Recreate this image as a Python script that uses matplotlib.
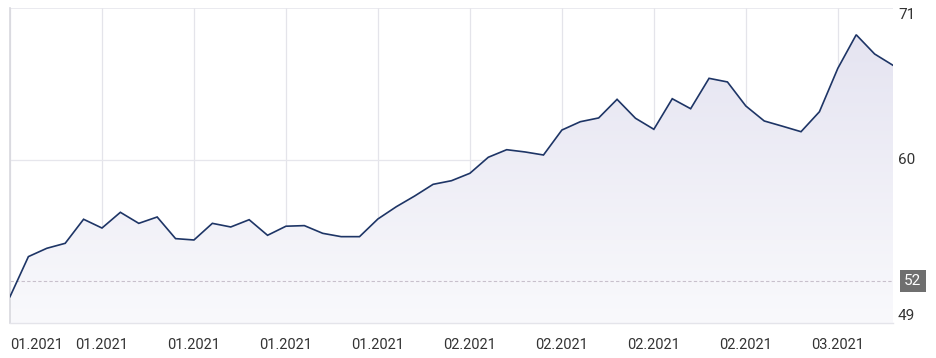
import matplotlib
matplotlib.use("Agg")
import matplotlib.pyplot as plt
import numpy as np
from matplotlib.colors import LinearSegmentedColormap

plt.rcParams['font.family'] = ['Roboto', 'DejaVu Sans']

values = [50.96, 53.61, 54.16, 54.49, 56.08, 55.50, 56.54, 55.81, 56.23, 54.80,
          54.71, 55.81, 55.57, 56.05, 55.02, 55.62, 55.66, 55.15, 54.93, 54.93,
          56.10, 56.91, 57.62, 58.39, 58.63, 59.12, 60.18, 60.68, 60.53, 60.33,
          61.98, 62.53, 62.78, 64.01, 62.76, 62.03, 64.05, 63.39, 65.40, 65.16,
          63.57, 62.58, 62.23, 61.87, 63.19, 66.06, 68.28, 67.01, 66.26]
tick_idx = [0, 5, 10, 15, 20, 25, 30, 35, 40, 45]
tick_labels = ["01.2021", "01.2021", "01.2021", "01.2021", "01.2021",
               "02.2021", "02.2021", "02.2021", "02.2021", "03.2021"]
y_labels = ["71", "60", "49"]
ref_value = 52
ref_label = "52"

x = np.arange(len(values))
ymin, ymax = 49.22, 70.05

fig = plt.figure(figsize=(9.37, 3.58), dpi=100)
ax = fig.add_axes([10/937, 1-323/358, 883/937, 315/358])
ax.set_xlim(0, len(values)-1)
ax.set_ylim(ymin, ymax)

# gradient fill
cmap = LinearSegmentedColormap.from_list("g", ["#f9f9fc", "#e5e4f1"])
grad = np.linspace(0, 1, 256).reshape(-1, 1)
im = ax.imshow(grad, extent=[0, len(values)-1, ymin, max(values)], origin='lower',
               aspect='auto', cmap=cmap, zorder=1)
poly = ax.fill_between(x, values, ymin, color='none', lw=0)
im.set_clip_path(poly.get_paths()[0], transform=ax.transData)

ax.plot(x, values, color='#1e3566', lw=1.2, zorder=3, solid_joinstyle='miter')

# grid
for t in tick_idx:
    ax.axvline(t, color='#e4e4ea', lw=0.9, zorder=0.5)
ax.axhline(60, color='#e6e6ec', lw=0.9, zorder=0.5)
ax.axhline(ymax, color='#e6e6ec', lw=1.2, zorder=0.5)
ax.axhline(ref_value, color='#c8c0cc', lw=0.8, ls=(0, (3, 2)), zorder=2)

for s in ['top', 'right']:
    ax.spines[s].set_visible(False)
ax.spines['left'].set_color('#d8d8de')
ax.spines['bottom'].set_color('#e4e4ea')
ax.spines['left'].set_linewidth(1.2)
ax.spines['bottom'].set_linewidth(1.0)

ax.set_xticks(tick_idx)
ax.set_xticklabels(tick_labels, fontsize=10.5, color='#333333')
ax.tick_params(axis='x', length=0, pad=11)
lbls = ax.get_xticklabels()
lbls[0].set_horizontalalignment('left')
ax.set_yticks([])

# right labels
lx = 1.0 + 5/883
ax.text(lx, 1 - 7/315, y_labels[0], transform=ax.transAxes, ha='left', va='center',
        fontsize=11, color='#333333')
ax.text(lx, 60, y_labels[1], transform=ax.get_yaxis_transform(), ha='left', va='center',
        fontsize=11, color='#333333')
ax.text(lx, 7/315, y_labels[2], transform=ax.transAxes, ha='left', va='center',
        fontsize=11, color='#333333')
ax.text(1.0 + 11/883, ref_value, ref_label, transform=ax.get_yaxis_transform(), ha='left', va='center',
        fontsize=11, color='white',
        bbox=dict(boxstyle='square,pad=0.28', fc='#6f6f6f', ec='none'))

fig.savefig("out.png", dpi=100)
